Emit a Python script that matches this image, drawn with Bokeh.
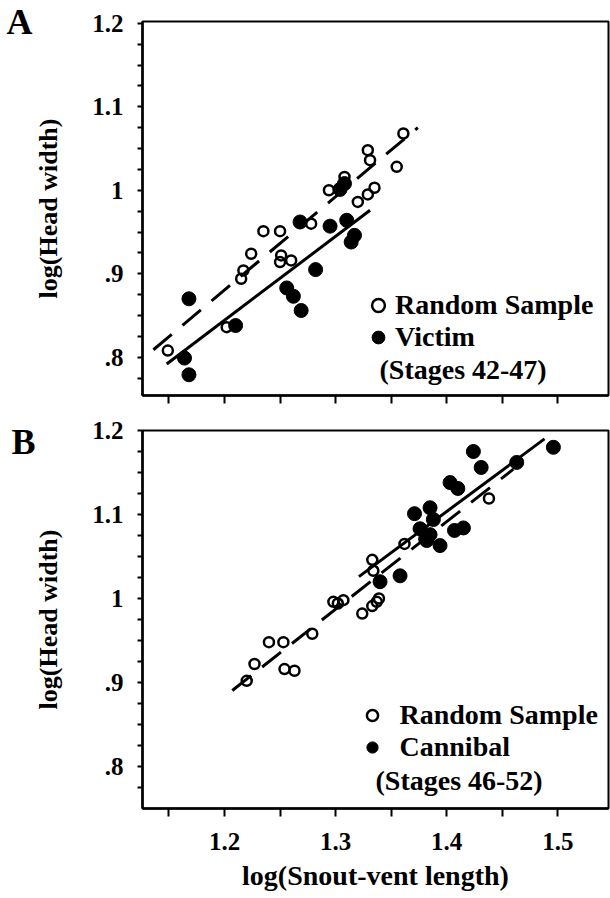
from bokeh.plotting import figure
from bokeh.layouts import column
from bokeh.models import FixedTicker, Range1d, Legend, LegendItem, Label, LinearAxis
from bokeh.embed import file_html
from bokeh.resources import INLINE

FONT = "Liberation Serif"

# ---------------- Panel A (Victim, stages 42-47) ----------------
a_random_x = [1.149, 1.202, 1.215, 1.217, 1.224, 1.235, 1.250, 1.250, 1.251, 1.260,
              1.278, 1.294, 1.304, 1.308, 1.320, 1.329, 1.335, 1.329, 1.331, 1.355, 1.361]
a_random_y = [0.808, 0.836, 0.894, 0.904, 0.924, 0.951, 0.951, 0.914, 0.922, 0.916,
              0.960, 1.000, 1.002, 1.016, 0.986, 0.995, 1.003, 1.048, 1.036, 1.028, 1.068]
a_victim_x = [1.164, 1.168, 1.168, 1.210, 1.256, 1.262, 1.269, 1.282, 1.268, 1.295,
              1.308, 1.304, 1.310, 1.317, 1.314]
a_victim_y = [0.799, 0.779, 0.870, 0.838, 0.883, 0.873, 0.856, 0.905, 0.962, 0.957,
              1.008, 1.001, 0.964, 0.946, 0.938]
a_random_fit_x = [1.136, 1.374]
a_random_fit_y = [0.809, 1.075]
a_victim_fit_x = [1.148, 1.331]
a_victim_fit_y = [0.792, 0.976]

# ---------------- Panel B (Cannibal, stages 46-52) ----------------
b_random_x = [1.220, 1.227, 1.240, 1.253, 1.254, 1.263, 1.279, 1.298, 1.302, 1.307,
              1.324, 1.333, 1.337, 1.339, 1.333, 1.334, 1.362, 1.438]
b_random_y = [0.902, 0.922, 0.948, 0.948, 0.916, 0.914, 0.958, 0.996, 0.994, 0.998,
              0.982, 0.991, 0.996, 1.000, 1.046, 1.033, 1.065, 1.119]
b_cannibal_x = [1.340, 1.358, 1.371, 1.385, 1.376, 1.382, 1.388, 1.385, 1.394, 1.381,
                1.407, 1.415, 1.403, 1.410, 1.424, 1.431, 1.463, 1.496]
b_cannibal_y = [1.020, 1.027, 1.101, 1.108, 1.083, 1.069, 1.094, 1.076, 1.063, 1.071,
                1.081, 1.084, 1.138, 1.131, 1.175, 1.156, 1.162, 1.180]
b_random_fit_x = [1.207, 1.460]
b_random_fit_y = [0.8905, 1.154]
b_cannibal_fit_x = [1.321, 1.488]
b_cannibal_fit_y = [1.026, 1.190]

# ---------------- Axes ----------------
x_major = [1.2, 1.3, 1.4, 1.5]
x_minor = [1.15, 1.25, 1.35, 1.45]
y_major = [0.8, 0.9, 1.0, 1.1, 1.2]
y_labels = [".8", ".9", "1", "1.1", "1.2"]
y_minor = [0.775, 0.825, 0.85, 0.875, 0.925, 0.95, 0.975, 1.025, 1.05, 1.075,
           1.125, 1.15, 1.175]
x_title = "log(Snout-vent length)"
y_title = "log(Head width)"


def make_panel(height, top, bottom, y_start, y_end, show_x):
    p = figure(width=610, height=height,
               x_range=Range1d(1.1262, 1.5456), y_range=Range1d(y_start, y_end),
               min_border_left=142, min_border_right=2,
               min_border_top=top, min_border_bottom=bottom,
               toolbar_location=None, output_backend="svg")
    p.grid.visible = False
    p.outline_line_color = "black"
    p.outline_line_width = 2
    p.background_fill_color = "white"
    p.border_fill_color = "white"

    for ax in (p.xaxis[0], p.yaxis[0]):
        ax.axis_line_width = 2.5
        ax.axis_line_color = "black"
        ax.major_tick_line_width = 2
        ax.minor_tick_line_width = 2
        ax.major_tick_in = 0
        ax.minor_tick_in = 0
        ax.major_label_text_font = FONT
        ax.major_label_text_font_style = "bold"
        ax.major_label_text_font_size = "25px"
        ax.major_label_text_color = "black"
        ax.axis_label_text_font = FONT
        ax.axis_label_text_font_style = "bold"
        ax.axis_label_text_color = "black"

    ya = p.yaxis[0]
    ya.ticker = FixedTicker(ticks=y_major, minor_ticks=y_minor)
    ya.major_label_overrides = dict(zip(y_major, y_labels))
    ya.major_tick_out = 5
    ya.minor_tick_out = 5
    ya.major_label_standoff = 14
    ya.axis_label = y_title
    ya.axis_label_text_font_size = "26px"
    ya.axis_label_standoff = 26

    xa = p.xaxis[0]
    xa.major_tick_out = 8
    xa.minor_tick_out = 8
    if show_x:
        xa.ticker = FixedTicker(ticks=x_major, minor_ticks=x_minor)
        xa.major_label_standoff = 16
        xa.axis_label = x_title
        xa.axis_label_text_font_size = "28px"
        xa.axis_label_standoff = 7
    else:
        # panel A: unlabeled ticks only
        xa.ticker = FixedTicker(ticks=[], minor_ticks=sorted(x_major + x_minor))
        xa.major_label_standoff = 0
    return p


def add_series(p, rx, ry, fx, fy, frx, fry, ffx, ffy):
    p.line(frx, fry, line_color="black", line_width=3, line_dash="24 14")
    p.line(ffx, ffy, line_color="black", line_width=3)
    r_open = p.scatter(rx, ry, marker="circle", size=10, fill_alpha=0,
                       line_color="black", line_width=2.5)
    r_fill = p.scatter(fx, fy, marker="circle", size=14, fill_color="black",
                       line_color="black", line_width=1)
    return r_open, r_fill


def text_label(p, x, y, text, size):
    p.add_layout(Label(x=x, y=y, x_units="screen", y_units="screen", text=text,
                       text_font=FONT, text_font_style="bold", text_font_size=size,
                       text_color="black", text_baseline="alphabetic", text_align="left"))


def letter_axis(p, tick, letter, standoff):
    # panel letter drawn as the single label of an extra, invisible left axis
    ax = LinearAxis(ticker=FixedTicker(ticks=[tick], minor_ticks=[]),
                    major_label_overrides={tick: letter},
                    axis_line_color=None, major_tick_line_color=None,
                    minor_tick_line_color=None, major_tick_out=0, major_tick_in=0,
                    major_label_standoff=standoff,
                    major_label_text_font=FONT, major_label_text_font_style="bold",
                    major_label_text_font_size="36px", major_label_text_color="black")
    p.add_layout(ax, "left")


# Panel A
pa = make_panel(416, 21, 21, 0.7542, 1.2021, False)
ra_open, ra_fill = add_series(pa, a_random_x, a_random_y, a_victim_x, a_victim_y,
                              a_random_fit_x, a_random_fit_y, a_victim_fit_x, a_victim_fit_y)
leg_a = Legend(items=[LegendItem(label="Random Sample", renderers=[ra_open]),
                      LegendItem(label="Victim", renderers=[ra_fill])],
               location=(220, 42), orientation="vertical", padding=0, margin=0, spacing=0,
               glyph_width=32, glyph_height=32, label_height=32, label_standoff=1,
               label_text_font=FONT, label_text_font_style="bold", label_text_font_size="28px",
               label_text_color="black", background_fill_alpha=0, border_line_alpha=0)
pa.add_layout(leg_a)
text_label(pa, 237, 26, "(Stages 42-47)", "28px")
letter_axis(pa, 1.2015, "A", -1)

# Panel B
pb = make_panel(482, 14, 90, 0.75, 1.2, True)
rb_open, rb_fill = add_series(pb, b_random_x, b_random_y, b_cannibal_x, b_cannibal_y,
                              b_random_fit_x, b_random_fit_y, b_cannibal_fit_x, b_cannibal_fit_y)
leg_b = Legend(items=[LegendItem(label="Random Sample", renderers=[rb_open]),
                      LegendItem(label="Cannibal", renderers=[rb_fill])],
               location=(215.5, 45.5), orientation="vertical", padding=0, margin=0, spacing=0,
               glyph_width=28, glyph_height=28, label_height=31, label_standoff=14,
               label_text_font=FONT, label_text_font_style="bold", label_text_font_size="28px",
               label_text_color="black", background_fill_alpha=0, border_line_alpha=0)
pb.add_layout(leg_b)
text_label(pb, 233, 28, "(Stages 46-52)", "28px")
letter_axis(pb, 1.1999, "B", -4)

layout = column(pa, pb, spacing=0)
open("out.html", "w").write(file_html(layout, INLINE))
